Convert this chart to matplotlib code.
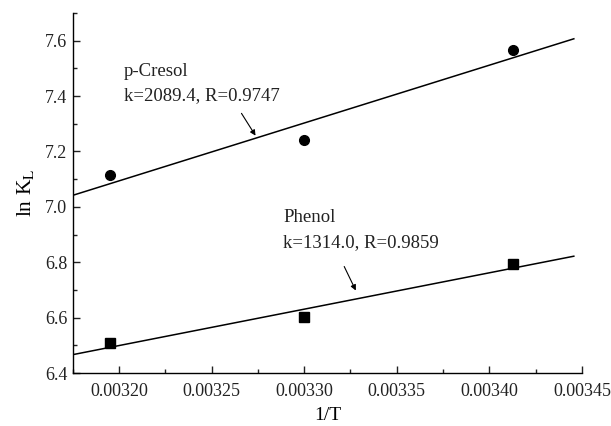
import numpy as np
import matplotlib
matplotlib.use("Agg")
import matplotlib.pyplot as plt
from matplotlib.ticker import MultipleLocator, FormatStrFormatter

plt.rcParams['font.family'] = ['Liberation Serif', 'DejaVu Serif']
plt.rcParams['mathtext.fontset'] = 'stix'

# 1/T values (T = 313, 303, 293 K)
inv_T = [0.003195, 0.003300, 0.003413]
ln_kl_cresol = [7.115, 7.242, 7.568]
ln_kl_phenol = [6.507, 6.602, 6.793]

# Slopes of the linear fits and their correlation coefficients
k_cresol, r_cresol = 2089.4, 0.9747
k_phenol, r_phenol = 1314.0, 0.9859

fit_range = [0.003175, 0.003446]

fig = plt.figure(figsize=(6.11, 4.26), dpi=100)
ax = fig.add_axes([0.119, 0.1244, 0.8335, 0.845])

x = np.array(inv_T)
xf = np.array(fit_range)
for yv, k in ((ln_kl_cresol, k_cresol), (ln_kl_phenol, k_phenol)):
    y = np.array(yv)
    a = y.mean() - k * x.mean()
    ax.plot(xf, a + k * xf, color='black', lw=1.1, solid_capstyle='butt')

ax.plot(inv_T, ln_kl_cresol, 'o', color='black', ms=7, ls='none')
ax.plot(inv_T, ln_kl_phenol, 's', color='black', ms=6.5, ls='none')

ax.set_xlim(0.003175, 0.00345)
ax.set_ylim(6.4, 7.7)
ax.xaxis.set_major_locator(MultipleLocator(0.00005))
ax.xaxis.set_minor_locator(MultipleLocator(0.000025))
ax.yaxis.set_major_locator(MultipleLocator(0.2))
ax.yaxis.set_minor_locator(MultipleLocator(0.1))
ax.xaxis.set_major_formatter(FormatStrFormatter('%.5f'))
ax.yaxis.set_major_formatter(FormatStrFormatter('%.1f'))

for s in ('top', 'right'):
    ax.spines[s].set_visible(False)
for s in ('left', 'bottom'):
    ax.spines[s].set_linewidth(1.0)

ax.tick_params(which='both', direction='in', width=1.0, labelsize=13, colors='#222222')
ax.tick_params(which='major', length=5)
ax.tick_params(which='minor', length=3)
ax.tick_params(axis='x', pad=7)
ax.tick_params(axis='y', pad=4)

ax.set_xlabel('1/T', fontsize=14, labelpad=5)
ax.set_ylabel(r'ln K$_\mathrm{L}$', fontsize=15.5, labelpad=6)

def px2data(px, py):
    return ax.transData.inverted().transform(
        fig.transFigure.transform((px / 611, 1 - py / 426)))

tp = dict(fontsize=13.5, color='#222222', va='center', ha='left')
ax.text(*px2data(124, 72), 'p-Cresol', **tp)
ax.text(*px2data(124, 96), f'k={k_cresol}, R={r_cresol}', **tp)
ax.text(*px2data(283, 218), 'Phenol', **tp)
ax.text(*px2data(283, 243), f'k={k_phenol}, R={r_phenol}', **tp)

arrow = dict(arrowstyle='-|>', color='black', lw=0.8, mutation_scale=8)
ax.annotate('', xy=px2data(257, 138), xytext=px2data(240, 111), arrowprops=arrow)
ax.annotate('', xy=px2data(357, 293), xytext=px2data(343, 264), arrowprops=arrow)

fig.savefig('out.png', dpi=100)
